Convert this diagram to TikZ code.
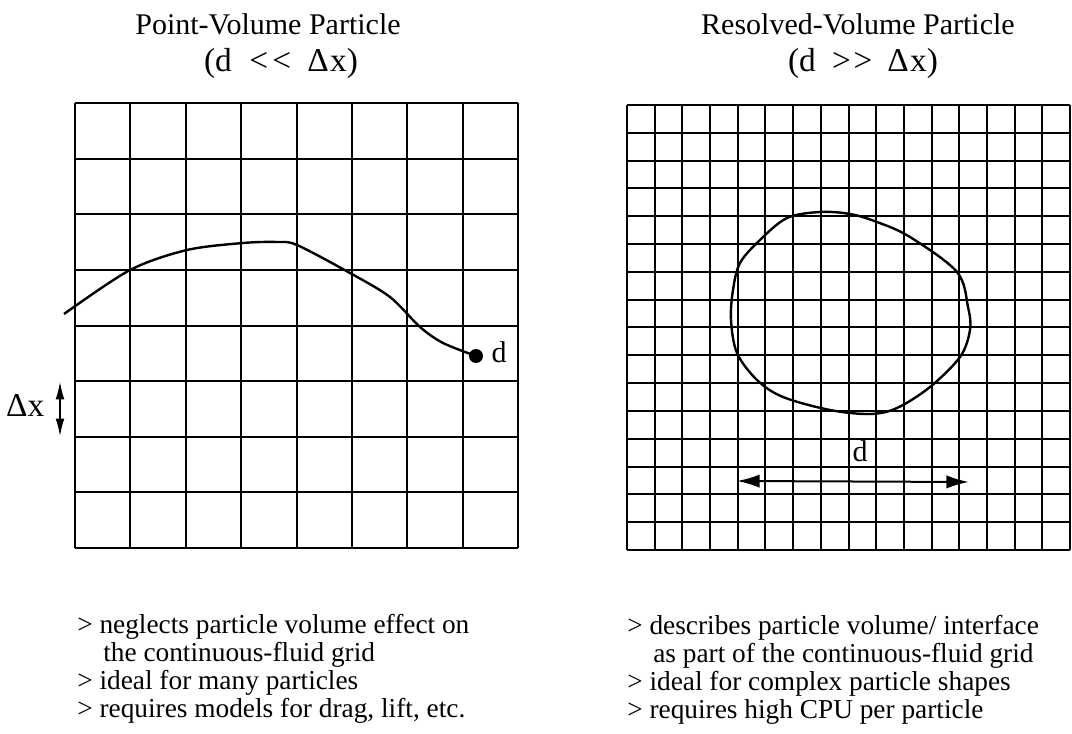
\documentclass[tikz,border=0pt]{standalone}
\usepackage{fontspec}
\setmainfont{Liberation Serif}
\usetikzlibrary{arrows.meta}
\begin{document}
\begin{tikzpicture}[x=0.75pt,y=-0.75pt,
  title/.style={font=\fontsize{22.5}{27}\selectfont},
  subtitle/.style={font=\fontsize{25}{30}\selectfont},
  note/.style={font=\fontsize{20.5}{21}\selectfont,align=left,anchor=base west,inner sep=0},
  gridline/.style={line width=1pt},
  track/.style={line width=1.8pt,line join=round}]
\useasboundingbox (0,0) rectangle (1072,734);
% left: coarse grid
\foreach \i [evaluate=\i as \gx using 75+round(\i*55.375),
             evaluate=\i as \gy using 103+round(\i*55.625)] in {0,...,8} {
  \draw[gridline] (\gx,103) -- (\gx,548);
  \draw[gridline] (75,\gy) -- (518,\gy);
}
% right: fine grid
\foreach \i [evaluate=\i as \gx using 627+round(\i*27.69),
             evaluate=\i as \gy using 105+round(\i*27.81)] in {0,...,16} {
  \draw[gridline] (\gx,105) -- (\gx,550);
  \draw[gridline] (627,\gy) -- (1070,\gy);
}
\node[title,anchor=base] (ptitle) at (268,35) {Point-Volume Particle};
\node[subtitle,anchor=base] (psub) at (281,72) {(d \hspace{7pt}<\hspace{3pt}< \hspace{6pt}Δ\hspace{1pt}x)};
\node[title,anchor=base] (rtitle) at (858,35) {Resolved-Volume Particle};
\node[subtitle,anchor=base] (rsub) at (863,72) {(d \hspace{6pt}>\hspace{2pt}> \hspace{5pt}Δ\hspace{1pt}x)};
% particle path
\draw[track] plot[smooth,tension=0.5] coordinates {(64,314) (130,270) (187,250) (243,243)
  (277,242) (297,245) (350,273) (390,297) (420,327) (443,343) (476,356)};
\node[circle,fill,inner sep=0,minimum size=10.5pt] (dot) at (476,356) {};
\node[title,anchor=base west] (dlab) at (487,363) {d};
\coordinate (dxtop) at (60,382);
\coordinate (dxbot) at (60,436);
\draw[line width=0.8pt,{Latex[length=13pt,width=6.5pt]}-{Latex[length=13pt,width=6.5pt]}] (dxtop) -- (dxbot);
\node[subtitle,anchor=base east] (dxlab) at (49,417) {Δx};
% resolved particle
\draw[track] plot[smooth cycle,tension=0.55] coordinates {(820,212) (850,214) (877,222) (910,237)
  (957,272) (968,307) (970,330) (960,357) (930,387) (897,408) (870,414) (830,410)
  (783,397) (757,380) (737,353) (731,320) (733,290) (740,263) (760,240) (787,218)};
\coordinate (dleft) at (737,481);
\coordinate (dright) at (969,482);
\draw[line width=1.5pt,{Latex[length=17pt,width=10pt]}-{Latex[length=17pt,width=10pt]}] (dleft) -- (dright);
\node[title,anchor=base] (dlab2) at (860,462) {d};
% notes
\node[note] (pnotes) at (77,717) {> neglects particle volume effect on\\
  \hspace*{19.5pt}the continuous-fluid grid\\
  > ideal for many particles\\
  > requires models for drag, lift, etc.};
\node[note] (rnotes) at (627,718) {> describes particle volume/ interface\\
  \hspace*{19.5pt}as part of the continuous-fluid grid\\
  > ideal for complex particle shapes\\
  > requires high CPU per particle};
\end{tikzpicture}
\end{document}
